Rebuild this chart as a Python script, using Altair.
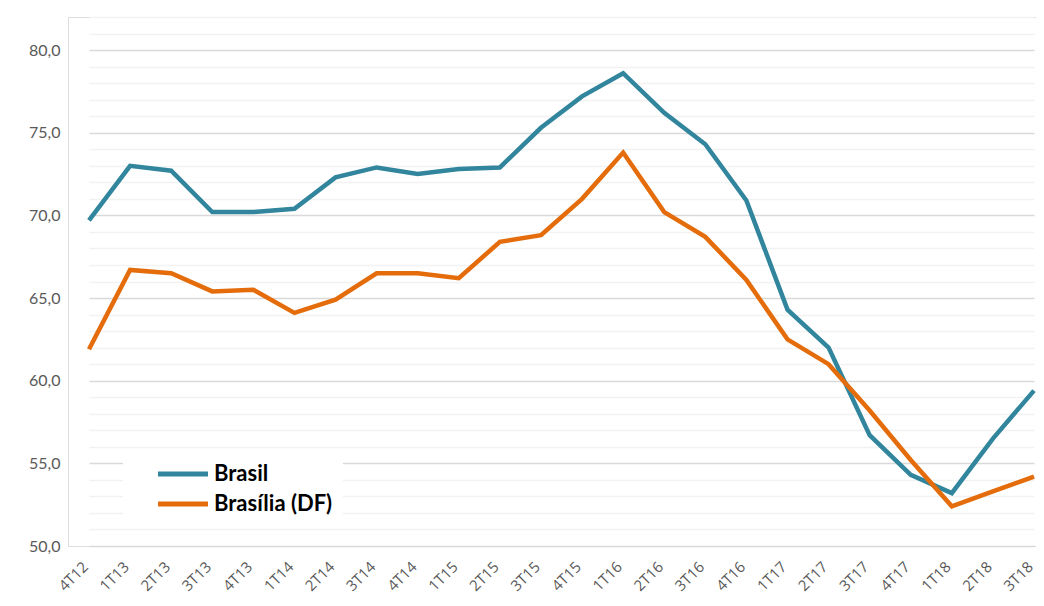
import altair as alt
import pandas as pd

quarters = ["4T12", "1T13", "2T13", "3T13", "4T13", "1T14", "2T14", "3T14", "4T14",
            "1T15", "2T15", "3T15", "4T15", "1T16", "2T16", "3T16", "4T16",
            "1T17", "2T17", "3T17", "4T17", "1T18", "2T18", "3T18"]
brasil = [69.7, 73.0, 72.7, 70.2, 70.2, 70.4, 72.3, 72.9, 72.5, 72.8, 72.9, 75.3,
          77.2, 78.6, 76.2, 74.3, 70.9, 64.3, 62.0, 56.7, 54.3, 53.2, 56.5, 59.4]
brasilia = [61.9, 66.7, 66.5, 65.4, 65.5, 64.1, 64.9, 66.5, 66.5, 66.2, 68.4, 68.8,
            71.0, 73.8, 70.2, 68.7, 66.1, 62.5, 61.0, 58.2, 55.2, 52.4, 53.3, 54.2]
series_names = ["Brasil", "Brasília (DF)"]
series_colors = ["#31859C", "#E46C0A"]
y_ticks = list(range(50, 83))

rows = []
for i, q in enumerate(quarters):
    rows.append({"q": q, "s": series_names[0], "v": brasil[i], "o": i})
    rows.append({"q": q, "s": series_names[1], "v": brasilia[i], "o": i})
df = pd.DataFrame(rows)

W, H = 968, 529

chart = alt.Chart(df).mark_line(strokeWidth=4.5, strokeJoin="miter", strokeCap="butt").encode(
    x=alt.X("q:N", sort=quarters, title=None,
            scale=alt.Scale(type="point", range=[21, 966], padding=0),
            axis=alt.Axis(labelAngle=-45, labelColor="#595959", labelFontSize=15,
                          labelFont="Open Sans", ticks=False, domain=False, grid=False,
                          labelPadding=18, labelOffset=-4, labelAlign="right", labelBaseline="middle")),
    y=alt.Y("v:Q", title=None,
            scale=alt.Scale(domain=[50, 82], nice=False, zero=False),
            axis=alt.Axis(values=y_ticks, ticks=False, domain=False,
                          labelExpr="datum.value % 5 === 0 ? replace(format(datum.value, '.1f'), '.', ',') : ''",
                          labelColor="#595959", labelFontSize=16, labelFont="Lato",
                          labelPadding=8,
                          gridColor=alt.condition("datum.value % 5 === 0", alt.value("#D9D9D9"), alt.value("#F2F2F2")),
                          gridWidth=1.5)),
    color=alt.Color("s:N", title=None,
                    scale=alt.Scale(domain=series_names, range=series_colors),
                    legend=alt.Legend(orient="none", legendX=55, legendY=436,
                                      fillColor="white", padding=10, symbolOffset=39,
                                      symbolType="M-5,0H5", symbolSize=100, symbolStrokeWidth=5,
                                      labelFont="Lato", labelFontSize=22, labelFontWeight="bold",
                                      labelColor="#000000", labelOffset=20, rowPadding=8,
                                      labelExpr="datum.label + '" + "\u00a0" * 12 + "\u2003'")),
    order="o:Q",
).properties(
    width=W, height=H,
    autosize=alt.AutoSizeParams(type="none"),
    padding={"left": 60, "top": 9, "right": 0, "bottom": 50},
).configure_view(stroke=None).configure(background="white")

chart.save("out.html", embed_options={"renderer": "svg", "actions": False})
